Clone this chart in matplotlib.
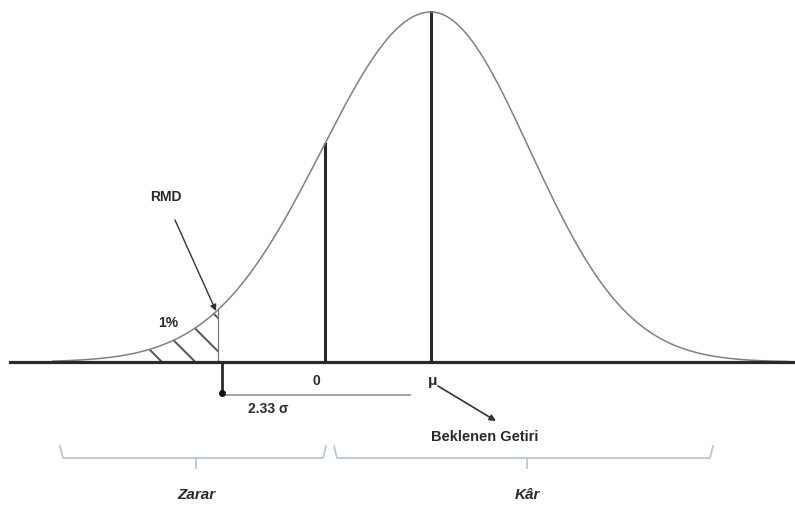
import numpy as np
import matplotlib.pyplot as plt

# split-normal shape of the drawn curve (sigma units)
sigma_left = 1.04
sigma_right = 0.94
curve_start, curve_end = -3.6, 3.4

# positions on the axis (in sigma units, mu = 0)
pos_mu = 0.0
pos_zero = -1.01
pos_rmd = -2.03
hatch_start = -2.85

labels = {"rmd": "RMD", "pct": "1%", "zero": "0", "mu": "μ",
          "dist": "2.33 σ", "exp": "Beklenen Getiri",
          "loss": "Zarar", "profit": "Kâr"}

# pixel layout helpers (figure is 795 x 509 px)
PX_MU, PX_SIG = 431.0, 105.0
PY_BASE, PY_UNIT = 362.0, 350.0


def X(px):
    return (px - PX_MU) / PX_SIG


def Y(py):
    return (PY_BASE - py) / PY_UNIT


def density(z):
    s = np.where(z < 0, sigma_left, sigma_right)
    return np.exp(-0.5 * (z / s) ** 2)


plt.rcParams["hatch.linewidth"] = 1.4
plt.rcParams["hatch.color"] = "#555555"

fig = plt.figure(figsize=(7.95, 5.09), dpi=100)
ax = fig.add_axes([0, 0, 1, 1])
ax.set_xlim(X(0), X(795))
ax.set_ylim(Y(509), Y(0))
ax.axis("off")

font = dict(family="Liberation Sans", weight="bold", color="#2a2a2a")

z = np.linspace(curve_start, curve_end, 600)
ax.plot(z, density(z), color="#808080", lw=1.1, zorder=3)

# hatched 1% tail
zt = np.linspace(hatch_start, pos_rmd, 100)
ax.fill_between(zt, 0, density(zt), facecolor="none", edgecolor="#555555",
                hatch="\\", lw=0, zorder=2)
ax.plot([pos_rmd, pos_rmd], [0, density(np.array(pos_rmd))], color="#777777", lw=0.9)

# baseline
ax.plot([X(10), X(795)], [0, 0], color="#2a2a2a", lw=2.3, zorder=4)

# vertical lines at 0 and mu
ax.plot([pos_zero, pos_zero], [0, density(np.array(pos_zero))], color="#2a2a2a", lw=2.2)
ax.plot([pos_mu, pos_mu], [0, density(np.array(pos_mu))], color="#2a2a2a", lw=2.2)

# drop below RMD and distance arrow
ax.plot([pos_rmd + X(222) - X(218)] * 2, [0, Y(393)], color="#2a2a2a", lw=2.0)
ax.plot([X(222), X(410)], [Y(395), Y(395)], color="#999999", lw=1.3)
ax.plot([X(222)], [Y(393)], "o", color="#111111", ms=4)

ax.text(X(316), Y(381), labels["zero"], ha="center", va="center", fontsize=10, **font)
ax.text(X(433), Y(381), labels["mu"], ha="center", va="center", fontsize=11, **font)
ax.text(X(268), Y(409), labels["dist"], ha="center", va="center", fontsize=10, **font)

# RMD pointer
ax.annotate("", xy=(X(216), Y(311)), xytext=(X(175), Y(220)),
            arrowprops=dict(arrowstyle="-|>", color="#333333", lw=1.0,
                            mutation_scale=9, shrinkA=0, shrinkB=0))
ax.text(X(166), Y(197), labels["rmd"], ha="center", va="center", fontsize=10, **font)
ax.text(X(168), Y(323), labels["pct"], ha="center", va="center", fontsize=10, **font)

# expected return pointer
ax.annotate("", xy=(X(496), Y(421)), xytext=(X(438), Y(386)),
            arrowprops=dict(arrowstyle="-|>", color="#333333", lw=1.2,
                            mutation_scale=9, shrinkA=0, shrinkB=0))
ax.text(X(485), Y(437), labels["exp"], ha="center", va="center", fontsize=10.5, **font)

# braces at the bottom
brace_col = "#b9c7d6"
for x0, x1, xm in [(60, 326, 196), (334, 713, 527)]:
    ax.plot([X(x0), X(x0 + 3), X(x1 - 3), X(x1)],
            [Y(446), Y(458), Y(458), Y(446)], color=brace_col, lw=1.3)
    ax.plot([X(xm), X(xm)], [Y(458), Y(468)], color=brace_col, lw=1.3)

ax.text(X(196), Y(495), labels["loss"], ha="center", va="center", fontsize=11,
        style="italic", **font)
ax.text(X(527), Y(495), labels["profit"], ha="center", va="center", fontsize=11,
        style="italic", **font)

fig.savefig("out.png", dpi=100)
